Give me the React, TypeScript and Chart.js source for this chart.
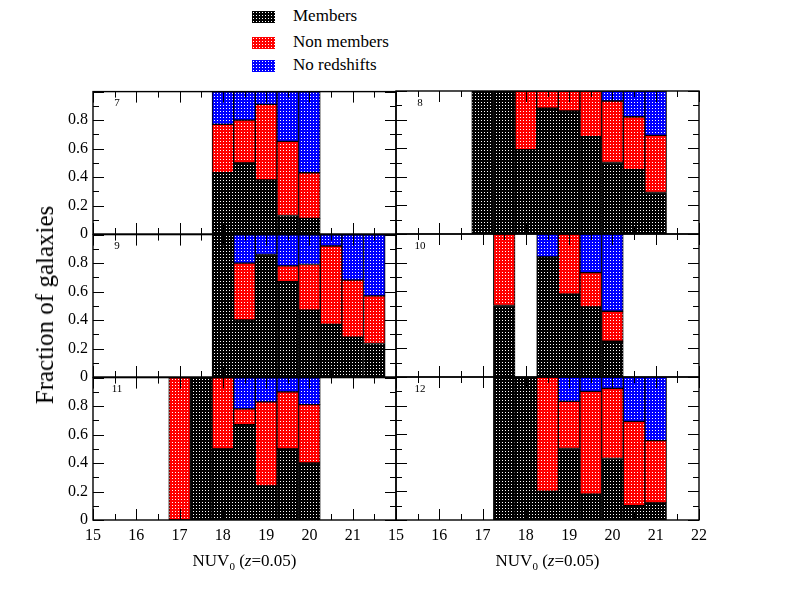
import React, { useEffect, useRef } from 'react';
import Chart from 'chart.js/auto';

const FONT = '"Liberation Serif", "Times New Roman", serif';

// axis ticks
const xTicks = [15, 16, 17, 18, 19, 20, 21, 22];
const yTicks = [0, 0.2, 0.4, 0.6, 0.8, 1];

// panel 7
const centres7 = [18, 18.5, 19, 19.5, 20];
const members7 = [0.43, 0.5, 0.38, 0.13, 0.11];
const nonMembers7 = [0.34, 0.3, 0.53, 0.52, 0.32];
const noRedshift7 = [0.23, 0.2, 0.09, 0.35, 0.57];

// panel 8
const centres8 = [17, 17.5, 18, 18.5, 19, 19.5, 20, 20.5, 21];
const members8 = [1, 1, 0.59, 0.88, 0.86, 0.68, 0.5, 0.45, 0.29];
const nonMembers8 = [0, 0, 0.41, 0.12, 0.14, 0.32, 0.43, 0.37, 0.4];
const noRedshift8 = [0, 0, 0, 0, 0, 0, 0.07, 0.18, 0.31];

// panel 9
const centres9 = [18, 18.5, 19, 19.5, 20, 20.5, 21, 21.5];
const members9 = [1, 0.4, 0.86, 0.67, 0.47, 0.37, 0.28, 0.235];
const nonMembers9 = [0, 0.4, 0, 0.11, 0.32, 0.55, 0.4, 0.335];
const noRedshift9 = [0, 0.2, 0.14, 0.22, 0.21, 0.08, 0.32, 0.43];

// panel 10 (empty bin at 18)
const centres10 = [17.5, 18, 18.5, 19, 19.5, 20];
const members10 = [0.5, 0, 0.84, 0.58, 0.49, 0.25];
const nonMembers10 = [0.5, 0, 0, 0.42, 0.24, 0.21];
const noRedshift10 = [0, 0, 0.16, 0, 0.27, 0.54];

// panel 11
const centres11 = [17, 17.5, 18, 18.5, 19, 19.5, 20];
const members11 = [0, 1, 0.5, 0.67, 0.24, 0.5, 0.4];
const nonMembers11 = [1, 0, 0.5, 0.11, 0.59, 0.4, 0.41];
const noRedshift11 = [0, 0, 0, 0.22, 0.17, 0.1, 0.19];

// panel 12
const centres12 = [17.5, 18, 18.5, 19, 19.5, 20, 20.5, 21];
const members12 = [1, 1, 0.2, 0.5, 0.18, 0.43, 0.1, 0.12];
const nonMembers12 = [0, 0, 0.8, 0.33, 0.72, 0.49, 0.59, 0.435];
const noRedshift12 = [0, 0, 0, 0.17, 0.1, 0.08, 0.31, 0.445];

const seriesNames = ['Members', 'Non members', 'No redshifts'];
const seriesColors = ['#000000', '#ff0000', '#0000ff'];

const panels = [
  { id: '7', row: 0, col: 0, centres: centres7, series: [members7, nonMembers7, noRedshift7] },
  { id: '8', row: 0, col: 1, centres: centres8, series: [members8, nonMembers8, noRedshift8] },
  { id: '9', row: 1, col: 0, centres: centres9, series: [members9, nonMembers9, noRedshift9] },
  { id: '10', row: 1, col: 1, centres: centres10, series: [members10, nonMembers10, noRedshift10] },
  { id: '11', row: 2, col: 0, centres: centres11, series: [members11, nonMembers11, noRedshift11] },
  { id: '12', row: 2, col: 1, centres: centres12, series: [members12, nonMembers12, noRedshift12] },
];

// page geometry of the plot frames
const PLOT_LEFT = [93, 396];
const PLOT_TOP = [91, 234, 377];
const PLOT_W = 303;
const PLOT_H = 143;
const ML = 45, MR = 14, MT = 14, MB = 30;

function dotPattern(color: string): CanvasPattern | string {
  const c = document.createElement('canvas');
  c.width = 3;
  c.height = 3;
  const g = c.getContext('2d');
  if (!g) return color;
  g.fillStyle = color;
  g.fillRect(0, 0, 3, 3);
  g.fillStyle = '#ffffff';
  g.fillRect(1, 1, 1, 1);
  return g.createPattern(c, 'repeat') || color;
}

// frame, inward major/minor ticks on all four sides, panel number
const frameTicks = {
  id: 'frameTicks',
  afterDraw(chart: any, _args: any, opts: any) {
    const { ctx, chartArea: a, scales } = chart;
    const xs = scales.x, ys = scales.y;
    ctx.save();
    ctx.strokeStyle = '#000';
    ctx.lineWidth = 1;
    ctx.beginPath();
    for (let v = xTicks[0]; v <= xTicks[xTicks.length - 1] + 1e-9; v += 0.5) {
      const px = Math.round(xs.getPixelForValue(v)) + 0.5;
      const len = Number.isInteger(v) ? 11 : 6;
      ctx.moveTo(px, a.bottom);
      ctx.lineTo(px, a.bottom - len);
      ctx.moveTo(px, a.top);
      ctx.lineTo(px, a.top + len);
    }
    for (let i = 0; i <= 10; i++) {
      const py = Math.round(ys.getPixelForValue(i / 10)) + 0.5;
      const len = i % 2 === 0 ? 11 : 6;
      ctx.moveTo(a.left, py);
      ctx.lineTo(a.left + len, py);
      ctx.moveTo(a.right, py);
      ctx.lineTo(a.right - len, py);
    }
    ctx.stroke();
    ctx.lineWidth = 1.4;
    ctx.strokeRect(a.left, a.top, a.right - a.left, a.bottom - a.top);
    ctx.fillStyle = '#000';
    ctx.font = '11px ' + FONT;
    ctx.textAlign = 'center';
    ctx.textBaseline = 'middle';
    ctx.fillText(opts.label, a.left + 24, a.top + 12);
    ctx.restore();
  },
};

type PanelProps = { panel: (typeof panels)[number] };

const Panel: React.FC<PanelProps> = ({ panel }) => {
  const chartRef = useRef<HTMLCanvasElement>(null);
  const chartInstance = useRef<Chart | null>(null);
  const showX = panel.row === 2;
  const showY = panel.col === 0;

  useEffect(() => {
    if (!chartRef.current) return;
    if (chartInstance.current) chartInstance.current.destroy();
    const ctx = chartRef.current.getContext('2d');
    if (!ctx) return;

    chartInstance.current = new Chart(ctx, {
      type: 'bar',
      data: {
        datasets: panel.series.map((vals, s) => ({
          label: seriesNames[s],
          data: panel.centres.map((x, i) => ({ x, y: vals[i] })),
          backgroundColor: dotPattern(seriesColors[s]) as any,
          borderColor: '#000',
          borderWidth: 1,
          borderSkipped: false,
          barPercentage: 1,
          categoryPercentage: 1,
        })),
      },
      options: {
        responsive: false,
        animation: false,
        events: [],
        layout: { padding: { left: 0, top: MT, right: MR, bottom: 0 } },
        plugins: {
          legend: { display: false },
          tooltip: { enabled: false },
          frameTicks: { label: panel.id },
        } as any,
        scales: {
          x: {
            type: 'linear',
            stacked: true,
            offset: false,
            min: xTicks[0],
            max: xTicks[xTicks.length - 1],
            grid: { display: false, drawTicks: false, offset: false },
            border: { display: false },
            afterBuildTicks: (scale: any) => {
              scale.ticks = xTicks.map((v) => ({ value: v }));
            },
            afterFit: (scale: any) => {
              scale.height = MB;
            },
            ticks: {
              display: showX,
              autoSkip: false,
              maxRotation: 0,
              padding: 6,
              color: '#000',
              font: { family: FONT, size: 16 },
              callback: (v: any) => (panel.col === 0 && v === 22 ? '' : String(v)),
            },
          },
          y: {
            type: 'linear',
            stacked: true,
            min: 0,
            max: 1,
            grid: { display: false, drawTicks: false },
            border: { display: false },
            afterBuildTicks: (scale: any) => {
              scale.ticks = yTicks.map((v) => ({ value: v }));
            },
            afterFit: (scale: any) => {
              scale.width = ML;
            },
            ticks: {
              display: showY,
              padding: 5,
              color: '#000',
              font: { family: FONT, size: 16 },
              callback: (v: any) => (Math.abs(v - 1) < 1e-9 ? '' : String(Math.round(v * 10) / 10)),
            },
          },
        },
      },
      plugins: [frameTicks as any],
    });

    return () => {
      if (chartInstance.current) {
        chartInstance.current.destroy();
        chartInstance.current = null;
      }
    };
  }, [panel]);

  return (
    <canvas
      ref={chartRef}
      width={PLOT_W + ML + MR}
      height={PLOT_H + MT + MB}
      style={{
        position: 'absolute',
        left: PLOT_LEFT[panel.col] - ML,
        top: PLOT_TOP[panel.row] - MT,
        width: PLOT_W + ML + MR,
        height: PLOT_H + MT + MB,
      }}
    />
  );
};

const swatch = (color: string): React.CSSProperties => ({
  position: 'absolute',
  left: 0,
  top: 0,
  width: 23,
  height: 12,
  backgroundColor: color,
  backgroundImage: 'radial-gradient(circle, #fff 0.6px, transparent 0.9px)',
  backgroundSize: '3px 3px',
});

export default function App() {
  useEffect(() => {
    document.body.style.margin = '0';
  }, []);

  const legendTops = [11, 37, 60];

  return (
    <div style={{ position: 'relative', width: 792, height: 612, fontFamily: FONT, color: '#000', background: '#fff' }}>
      {seriesNames.map((name, i) => (
        <div key={name} style={{ position: 'absolute', left: 252, top: legendTops[i], height: 12 }}>
          <div style={swatch(seriesColors[i])} />
          <div style={{ position: 'absolute', left: 41, top: -5, fontSize: 17, lineHeight: '20px', whiteSpace: 'nowrap' }}>
            {name}
          </div>
        </div>
      ))}

      {panels.map((p) => (
        <Panel key={p.id} panel={p} />
      ))}

      <div
        style={{
          position: 'absolute',
          left: 45,
          top: 305,
          transform: 'translate(-50%, -50%) rotate(-90deg)',
          fontSize: 25,
          whiteSpace: 'nowrap',
        }}
      >
        Fraction of galaxies
      </div>

      {PLOT_LEFT.map((left) => (
        <div
          key={left}
          style={{
            position: 'absolute',
            left,
            width: PLOT_W,
            top: 551,
            textAlign: 'center',
            fontSize: 17,
            lineHeight: '20px',
            whiteSpace: 'nowrap',
          }}
        >
          NUV<sub style={{ fontSize: 11 }}>0</sub> (<i>z</i>=0.05)
        </div>
      ))}
    </div>
  );
}
